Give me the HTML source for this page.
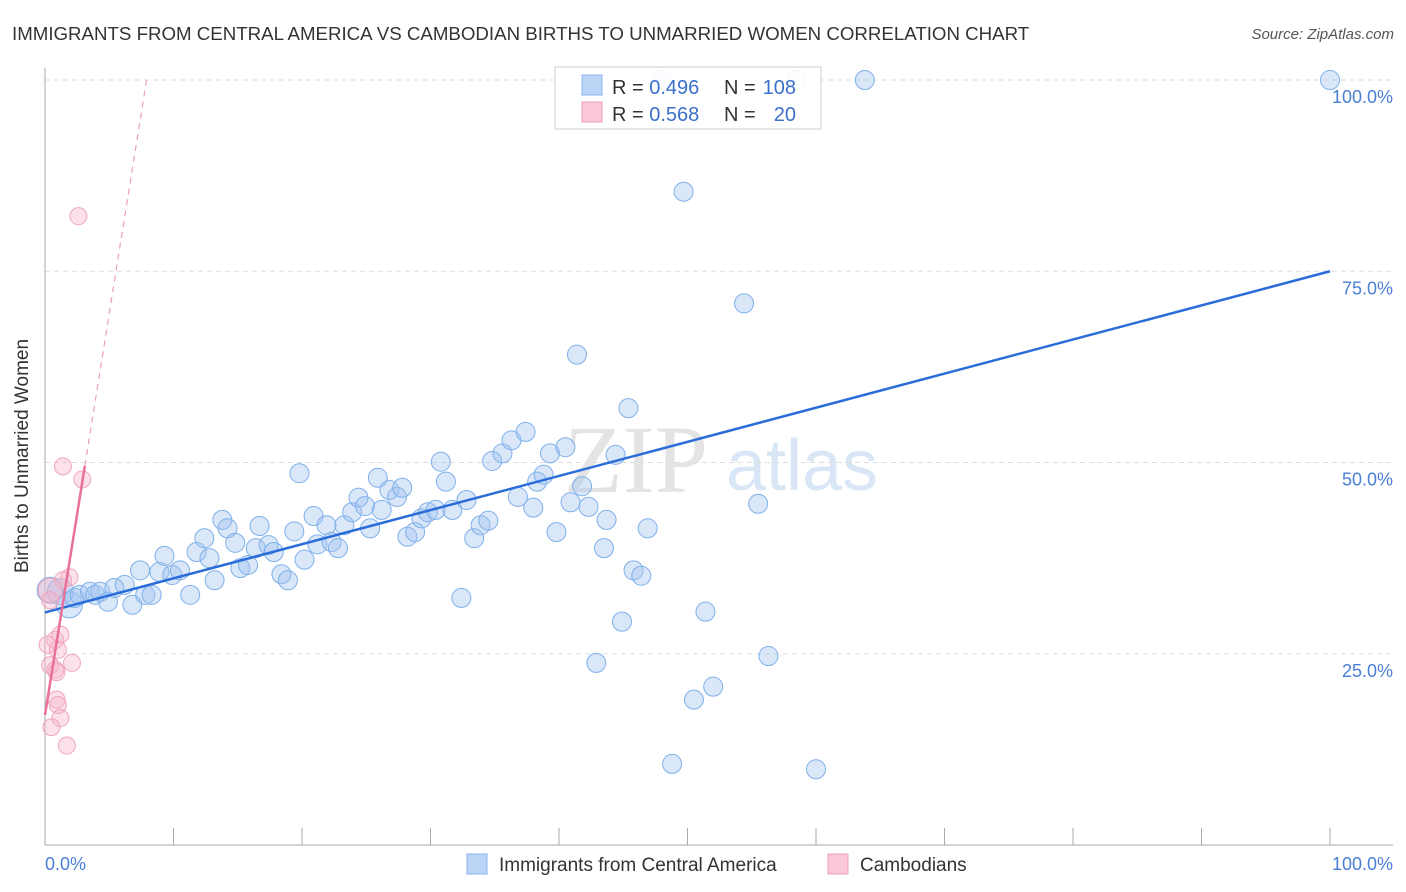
<!DOCTYPE html>
<html><head><meta charset="utf-8"><style>
body{margin:0;background:#fff;font-family:"Liberation Sans",sans-serif}
#c{position:relative;width:1406px;height:892px;overflow:hidden}
</style></head><body>
<div id="c">
<svg id="s" width="1406" height="892">
<text x="12" y="40" font-size="18.7" fill="#333">IMMIGRANTS FROM CENTRAL AMERICA VS CAMBODIAN BIRTHS TO UNMARRIED WOMEN CORRELATION CHART</text>
<text x="1394" y="39" font-size="15" fill="#555" text-anchor="end" font-style="italic">Source: ZipAtlas.com</text>
<text x="636" y="492" font-size="96" fill="#e4e4e4" font-family="Liberation Serif" text-anchor="middle">ZIP</text>
<text x="802" y="490" font-size="72" fill="#d8e6f6" text-anchor="middle">atlas</text>
<g id="grid"></g><g id="pts"></g><g id="lines"></g>
<text x="28" y="456" font-size="19" fill="#333" text-anchor="middle" transform="rotate(-90 28 456)">Births to Unmarried Women</text>
<text x="45" y="870" font-size="18" fill="#4a7fd6">0.0%</text>
<text x="1393" y="870" font-size="18" fill="#4a7fd6" text-anchor="end">100.0%</text>
<g>
<rect x="467" y="854" width="20" height="20" fill="#bcd4f6" stroke="#8ab4ec"/>
<text x="499" y="871" font-size="19" fill="#333">Immigrants from Central America</text>
<rect x="828" y="854" width="20" height="20" fill="#fbc9d7" stroke="#f0a0b8"/>
<text x="860" y="871" font-size="19" fill="#333">Cambodians</text>
</g>
<g>
<rect x="555" y="67" width="266" height="62" fill="#fff" fill-opacity="0.9" stroke="#ccc"/>
<rect x="582" y="75" width="20" height="20" fill="#bcd4f6" stroke="#8ab4ec"/>
<text x="612" y="94" font-size="20" fill="#333">R = <tspan fill="#3a70cc">0.496</tspan></text>
<text x="724" y="94" font-size="20" fill="#333">N =</text>
<text x="796" y="94" font-size="20" fill="#3a70cc" text-anchor="end">108</text>
<rect x="582" y="102" width="20" height="20" fill="#fbc9d7" stroke="#f0a0b8"/>
<text x="612" y="121" font-size="20" fill="#333">R = <tspan fill="#3a70cc">0.568</tspan></text>
<text x="724" y="121" font-size="20" fill="#333">N =</text>
<text x="796" y="121" font-size="20" fill="#3a70cc" text-anchor="end">20</text>
</g>
</svg>
</div>
<script>
const blueX=[0.4,1.2,1.9,2.3,2.7,3.5,3.9,4.3,4.9,5.4,6.2,6.8,7.4,7.8,8.3,8.9,9.3,9.9,10.5,11.3,11.8,12.4,12.8,13.2,13.8,14.2,14.8,15.2,15.8,16.4,16.7,17.4,17.8,18.4,18.9,19.4,19.8,20.2,20.9,21.2,21.9,22.3,22.8,23.3,23.9,24.4,24.9,25.3,25.9,26.2,26.8,27.4,27.8,28.2,28.8,29.3,29.8,30.4,30.8,31.2,31.7,32.4,32.8,33.4,33.9,34.5,34.8,35.6,36.3,36.8,37.4,38.0,38.3,38.8,39.3,39.8,40.5,40.9,41.4,41.8,42.3,42.9,43.5,43.7,44.4,44.9,45.4,45.8,46.4,46.9,48.8,49.7,50.5,51.4,52.0,54.4,55.5,56.3,58.5,60.0,63.8,100,48.1];
const blueY=[33.3,33.1,31.4,32.3,32.7,33.1,32.7,33.1,31.8,33.6,34.0,31.4,35.9,32.7,32.7,35.7,37.8,35.3,35.9,32.7,38.3,40.1,37.5,34.6,42.5,41.4,39.5,36.2,36.6,38.8,41.7,39.2,38.3,35.4,34.6,41.0,48.6,37.3,43.0,39.3,41.8,39.6,38.8,41.8,43.5,45.4,44.3,41.4,48.0,43.8,46.4,45.5,46.7,40.3,40.9,42.7,43.5,43.8,50.1,47.5,43.8,32.3,45.1,40.1,41.8,42.4,50.2,51.2,52.9,45.5,54.0,44.1,47.5,48.4,51.2,40.9,52.0,44.8,64.1,46.9,44.2,23.8,38.8,42.5,51.0,29.2,57.1,35.9,35.2,41.4,10.6,85.4,19.0,30.5,20.7,70.8,44.6,24.7,100,9.9,100,100,100];
const pinkX=[0.4,0.8,1.2,1.0,0.4,0.8,0.9,2.1,0.9,1.0,1.2,0.5,1.7,1.9,1.4,2.6,1.4,2.9,0.4,0.2];
const pinkY=[33.3,26.8,27.5,25.5,23.5,22.9,22.6,23.8,19.0,18.3,16.6,15.4,13.0,35.0,34.6,82.2,49.5,47.8,32.0,26.2];
const yTicks=[25,50,75,100];
const yTickLabels=["25.0%","50.0%","75.0%","100.0%"];
const blueTrend=[30.4,75];
const pinkTrend={b:17,m:10.5,solidTo:3.1};
const NS='http://www.w3.org/2000/svg';
const sx=v=>45+v*12.85, sy=v=>845-v*7.65;
function mk(p,t,a){const e=document.createElementNS(NS,t);for(const k in a)e.setAttribute(k,a[k]);p.appendChild(e);return e;}
const g=document.getElementById('grid');
yTicks.forEach((t,i)=>{
 const l=mk(g,'line',{x1:45,x2:1393,y1:sy(t),y2:sy(t),stroke:'#ddd','stroke-dasharray':'5,4'});
 
 
 const tx=mk(g,'text',{x:1393,y:sy(t)+23,'font-size':18,fill:'#4a7fd6','text-anchor':'end'});
 tx.textContent=yTickLabels[i];
 
 
});
const ax=mk(g,'line',{x1:45,x2:45,y1:68,y2:845,stroke:'#aaa'});


const bx=mk(g,'line',{x1:45,x2:1393,y1:845,y2:845,stroke:'#aaa'});


for(let i=0;i<=10;i++){const t=mk(g,'line',{x1:sx(i*10),x2:sx(i*10),y1:828,y2:845,stroke:'#aaa'});
 
 }
const pg=document.getElementById('pts');
blueX.forEach((x,i)=>{const r=(i<3)?13:9.5;
 const c=mk(pg,'circle',{cx:sx(x),cy:sy(blueY[i]),r:r,fill:'rgba(160,196,240,0.4)',stroke:'#7fb0ea','stroke-width':1});
 
 });
pinkX.forEach((x,i)=>{const r=(i==0)?12:8.5;
 const c=mk(pg,'circle',{cx:sx(x),cy:sy(pinkY[i]),r:r,fill:'rgba(248,180,200,0.4)',stroke:'#f0a6bd','stroke-width':1});
 
 });
const lg=document.getElementById('lines');
const bl=mk(lg,'line',{x1:sx(0),y1:sy(blueTrend[0]),x2:sx(100),y2:sy(blueTrend[1]),stroke:'#2a6dd9','stroke-width':2.5});


const pe=(100-pinkTrend.b)/pinkTrend.m;
const pl=mk(lg,'line',{x1:sx(0),y1:sy(pinkTrend.b),x2:sx(pinkTrend.solidTo),y2:sy(pinkTrend.b+pinkTrend.m*pinkTrend.solidTo),stroke:'#e8709a','stroke-width':2.5});


const pd=mk(lg,'line',{x1:sx(pinkTrend.solidTo),y1:sy(pinkTrend.b+pinkTrend.m*pinkTrend.solidTo),x2:sx(pe),y2:sy(100),stroke:'#e8a0b8','stroke-width':1.2,'stroke-dasharray':'6,5'});


</script>
</body></html>
